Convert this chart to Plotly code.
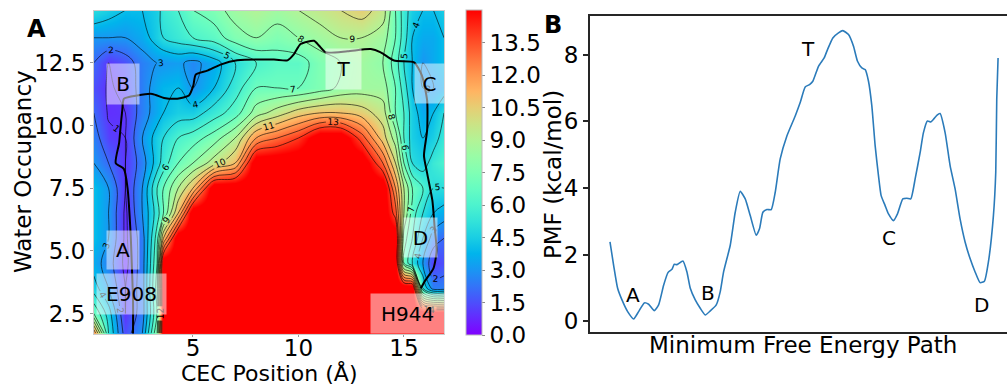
import numpy as np
import plotly.graph_objects as go

# ---------------- Panel A: free-energy surface ----------------
# CEC position (Å) grid columns and water occupancy grid rows
X_CEC = [0.3, 1.0, 1.8, 2.6, 3.3, 3.6, 4.3, 5.0, 6.0, 7.0, 8.0, 9.0, 10.0, 11.0,
         12.0, 13.0, 14.0, 14.6, 15.0, 15.4, 15.9, 16.4, 16.9]
Y_WATER = [1.7, 2.5, 3.5, 4.5, 5.5, 6.5, 7.5, 8.5, 9.5, 10.5, 11.5, 12.5, 13.5, 14.6]

# PMF (kcal/mol), one row per water-occupancy value (bottom to top)
PMF_SURFACE = [
    [12, 5, 1.5, 3, 8, 16, 16, 16, 16, 16, 16, 16, 16, 16, 16, 16, 16, 16, 16, 16, 16, 16, 16],
    [7, 4.5, 1, 2.5, 7, 16, 16, 16, 16, 16, 16, 16, 16, 16, 16, 16, 16, 16, 16, 16, 16, 16, 16],
    [4.5, 3, 1, 2.5, 7.5, 16, 16, 16, 16, 16, 16, 16, 16, 16, 16, 16, 16, 16, 16, 16, 5, 2.5, 2.5],
    [3.5, 2.5, 0.7, 2.5, 7, 16, 16, 16, 16, 16, 16, 16, 16, 16, 16, 16, 16, 16, 7, 5, 3, 1.2, 1.5],
    [4, 3, 0.8, 2.5, 6.5, 11, 16, 16, 16, 16, 16, 16, 16, 16, 16, 16, 16, 16, 7.5, 6, 4, 2.5, 2],
    [4, 3, 0.8, 3, 5.5, 7, 11, 16, 16, 16, 16, 16, 16, 16, 16, 16, 16, 13.5, 9, 6.5, 5, 4, 3.5],
    [4, 3, 1, 3, 6, 7, 9, 11, 16, 16, 16, 16, 16, 16, 16, 16, 16, 12, 9, 7, 6, 5, 5],
    [3, 2, 1, 2.5, 4.5, 5.5, 7, 8, 9.5, 11, 16, 16, 16, 16, 16, 16, 13, 10, 7, 5, 4.5, 5.5, 6],
    [2.5, 1.2, 1, 3, 4.5, 5, 6, 6.5, 7.5, 9, 12, 13, 14, 16, 16, 13.5, 10.5, 8.5, 6, 4.5, 4, 4.5, 5.5],
    [2, 0.9, 1, 2.5, 3.5, 4, 4.5, 4.5, 5.5, 6.5, 8.5, 9.5, 10.5, 11, 11, 10.5, 9.5, 7, 6, 4.5, 3.5, 4, 5],
    [1.5, 0.9, 1.2, 2.5, 3.5, 3.8, 4, 2.9, 4, 5.5, 7, 7, 7, 7.5, 8.2, 8.5, 8.5, 7, 5.5, 4, 3, 3, 3.5],
    [2, 1, 1.5, 2.5, 3, 3, 3.2, 2.7, 3.5, 5, 6, 6.5, 6.5, 7.5, 8, 8.5, 8, 6.5, 5, 4, 3, 3.5, 4],
    [3, 3, 3, 3.5, 4.5, 5, 5.5, 6, 6.5, 7.5, 8, 7.5, 8, 8.5, 9, 9, 8.5, 7, 5.5, 4, 3.5, 3.5, 4],
    [5, 4.5, 4, 4, 4.5, 5.5, 6, 7, 7.5, 8.5, 9, 8.5, 9, 9.5, 10, 10.5, 9.5, 7, 5.5, 4.5, 4, 4, 4.5],
]

# Minimum free energy path on the surface (E908 -> A -> B -> T -> C -> D -> H944)
PATH_X = [2.16, 2.16, 2.1, 2.05, 1.9, 1.73, 1.34, 1.5, 1.57, 1.65, 1.73, 2.36, 3.07, 3.63,
          4.26, 4.81, 5.02, 5.13, 5.68, 6.31, 7.1, 8.84, 9.48, 9.79, 10.1, 10.74, 10.98,
          11.29, 12.32, 13.43, 13.9, 14.53, 15.48, 15.85, 16.1, 16.1, 15.95, 16.1, 16.35,
          16.45, 16.55, 16.4, 16.0, 15.8]
PATH_Y = [1.7, 3.0, 4.5, 5.6, 7.5, 8.26, 8.5, 9.3, 9.94, 10.6, 11.07, 11.2, 11.26, 11.1,
          11.07, 11.2, 11.6, 12.03, 12.19, 12.43, 12.6, 12.63, 12.6, 12.85, 13.25, 13.38,
          13.18, 12.92, 12.96, 13.05, 12.92, 12.59, 12.52, 12.0, 11.0, 9.8, 8.8, 8.1, 7.0,
          6.0, 5.0, 4.3, 3.8, 3.5]

# State labels on the surface
SURF_LABELS = ["B", "A", "E908", "T", "C", "D", "H944"]
SURF_LABEL_X = [1.68, 1.68, 2.09, 12.13, 16.21, 15.78, 15.17]
SURF_LABEL_Y = [11.67, 5.04, 3.26, 12.27, 11.69, 5.54, 2.48]
SURF_LABEL_W = [32, 32, 69, 35, 29, 33, 73]
SURF_LABEL_H = [40, 38, 40, 40, 39, 39, 39]

# ---------------- Panel B: PMF along the path ----------------
PATH_S = [0, 0.94, 1.97, 3.09, 4.55, 6.09, 7.38, 8.84, 9.96, 11.42, 12.53, 13.82, 14.94,
          15.97, 16.57, 17.25, 18.8, 19.83, 20.69, 21.97, 23.26, 24.55, 25.84, 27.38, 28.41,
          29.27, 30.99, 32.27, 33.56, 34.85, 36.14, 37.68, 38.54, 39.4, 40.43, 41.55, 42.58,
          43.86, 45.58, 47.73, 49.01, 50.3, 51.42, 52.27, 53.73, 55.19, 56.05, 57.42, 58.88,
          60.0, 61.46, 62.75, 63.78, 64.89, 65.75, 66.61, 67.47, 68.33, 69.18, 69.87, 70.9,
          71.76, 73.05, 74.08, 75.45, 76.48, 77.51, 78.63, 79.91, 80.77, 81.8, 82.66, 83.35,
          84.21, 85.06, 86.35, 87.64, 88.93, 90.21, 91.5, 92.79, 94.08, 95.36, 96.48, 97.51,
          98.8, 99.4, 99.66, 100]
PATH_PMF = [2.38, 1.68, 0.99, 0.64, 0.29, 0.07, 0.29, 0.55, 0.51, 0.32, 0.49, 1.08, 1.46,
            1.56, 1.71, 1.7, 1.81, 1.48, 0.99, 0.64, 0.39, 0.19, 0.31, 0.49, 0.89, 1.48,
            2.28, 3.27, 3.9, 3.67, 3.17, 2.58, 2.78, 3.27, 3.35, 3.35, 3.87, 4.87, 5.56,
            6.16, 6.56, 7.03, 7.1, 7.2, 7.65, 7.9, 8.15, 8.5, 8.65, 8.72, 8.6, 8.25, 7.8,
            7.6, 7.55, 7.2, 6.46, 5.26, 4.37, 3.77, 3.47, 3.22, 3.02, 3.22, 3.67, 3.69, 3.67,
            4.27, 5.06, 5.66, 6.01, 5.98, 6.06, 6.18, 6.23, 5.66, 4.67, 3.97, 3.07, 2.38,
            1.88, 1.48, 1.16, 1.2, 1.78, 3.17, 4.47, 6.66, 7.9]

STATE_NAMES = ["A", "B", "T", "C", "D"]
STATE_S = [5.9, 25.3, 51.0, 71.9, 95.6]
STATE_PMF = [0.78, 0.84, 8.18, 2.5, 0.5]

CBAR_TICKS = [0.0, 1.5, 3.0, 4.5, 6.0, 7.5, 9.0, 10.5, 12.0, 13.5]

FONT = "DejaVu Sans"
W, H = 1007, 387


def rainbow_scale(n=21):
    """matplotlib-style 'rainbow' colormap as a plotly colorscale."""
    scale = []
    for t in np.linspace(0, 1, n):
        r = min(1.0, abs(2 * t - 0.5))
        g = np.sin(np.pi * t)
        b = np.cos(np.pi * t / 2)
        scale.append([float(t), f"rgb({int(round(r*255))},{int(round(g*255))},{int(round(max(b,0)*255))})"])
    return scale


def px_x(p):
    return p / W


def px_y(p):
    return 1 - p / H


fig = go.Figure()

fig.add_trace(go.Heatmap(
    x=X_CEC, y=Y_WATER, z=PMF_SURFACE, zmin=0, zmax=15, zsmooth="best",
    colorscale=rainbow_scale(), xaxis="x", yaxis="y", hoverinfo="skip",
    colorbar=dict(
        x=px_x(466), xanchor="left", xpad=0, ypad=0,
        y=px_y(173.5), yanchor="middle", lenmode="pixels", len=325,
        thickness=16, outlinewidth=1, outlinecolor="#bbbbbb",
        tickvals=CBAR_TICKS, ticktext=[f"{v:.1f}" for v in CBAR_TICKS],
        ticks="outside", ticklen=3, tickcolor="#888888",
        tickfont=dict(family=FONT, size=23, color="black"),
    ),
))

fig.add_trace(go.Contour(
    x=X_CEC, y=Y_WATER, z=PMF_SURFACE, xaxis="x", yaxis="y",
    contours=dict(start=1, end=14, size=1, coloring="none", showlabels=True,
                  labelfont=dict(family=FONT, size=9, color="black")),
    line=dict(color="rgba(0,0,0,0.75)", width=0.8),
    showscale=False, hoverinfo="skip",
))

fig.add_trace(go.Scatter(
    x=PATH_X, y=PATH_Y, mode="lines", xaxis="x", yaxis="y",
    line=dict(color="black", width=2, shape="spline", smoothing=0.6),
    hoverinfo="skip", showlegend=False,
))

fig.add_trace(go.Scatter(
    x=PATH_S, y=PATH_PMF, mode="lines", xaxis="x2", yaxis="y2",
    line=dict(color="#2b7bba", width=1.6, shape="spline", smoothing=0.5),
    hoverinfo="skip", showlegend=False,
))

annotations = []
for name, lx, ly, bw, bh in zip(SURF_LABELS, SURF_LABEL_X, SURF_LABEL_Y, SURF_LABEL_W, SURF_LABEL_H):
    annotations.append(dict(
        x=lx, y=ly, xref="x", yref="y", text=name, showarrow=False,
        font=dict(family=FONT, size=20, color="black"),
        bgcolor="rgba(255,255,255,0.5)", width=bw, height=bh, borderpad=0,
        xanchor="center", yanchor="middle",
    ))

for name, sx, sy in zip(STATE_NAMES, STATE_S, STATE_PMF):
    annotations.append(dict(
        x=sx, y=sy, xref="x2", yref="y2", text=name, showarrow=False,
        font=dict(family=FONT, size=20, color="black"),
        xanchor="center", yanchor="middle",
    ))

title_font = dict(family=FONT, size=23, color="black")
annotations += [
    dict(x=px_x(23), y=px_y(173), xref="paper", yref="paper", text="Water Occupancy",
         textangle=-90, showarrow=False, font=title_font, xanchor="center", yanchor="middle"),
    dict(x=px_x(269), y=px_y(375), xref="paper", yref="paper", text="CEC Position (Å)",
         showarrow=False, font=dict(family=FONT, size=22, color="black"),
         xanchor="center", yanchor="middle"),
    dict(x=px_x(553), y=px_y(176), xref="paper", yref="paper", text="PMF (kcal/mol)",
         textangle=-90, showarrow=False, font=title_font, xanchor="center", yanchor="middle"),
    dict(x=px_x(803), y=px_y(347), xref="paper", yref="paper", text="Minimum Free Energy Path",
         showarrow=False, font=title_font, xanchor="center", yanchor="middle"),
    dict(x=px_x(36), y=px_y(29), xref="paper", yref="paper", text="<b>A</b>",
         showarrow=False, font=dict(family=FONT, size=24, color="black"),
         xanchor="center", yanchor="middle"),
    dict(x=px_x(553), y=px_y(25), xref="paper", yref="paper", text="<b>B</b>",
         showarrow=False, font=dict(family=FONT, size=24, color="black"),
         xanchor="center", yanchor="middle"),
]

tick_font = dict(family=FONT, size=23, color="black")

fig.update_layout(
    width=W, height=H, margin=dict(l=0, r=0, t=0, b=0),
    paper_bgcolor="white", plot_bgcolor="white", showlegend=False,
    annotations=annotations,
    xaxis=dict(
        domain=[px_x(94), px_x(444)], range=[0.31, 16.9], anchor="y",
        tickvals=[5, 10, 15], ticks="outside", ticklen=2, tickcolor="#999999",
        ticklabelstandoff=-9,
        tickfont=tick_font, showgrid=False, zeroline=False,
        showline=True, linecolor="#cccccc", linewidth=1, mirror=True,
    ),
    yaxis=dict(
        domain=[px_y(336), px_y(11)], range=[1.67, 14.57], anchor="x",
        tickvals=[2.5, 5.0, 7.5, 10.0, 12.5], ticktext=["2.5", "5.0", "7.5", "10.0", "12.5"],
        ticks="outside", ticklen=3, tickcolor="#999999",
        tickfont=tick_font, showgrid=False, zeroline=False,
        showline=True, linecolor="#cccccc", linewidth=1, mirror=True,
    ),
    xaxis2=dict(
        domain=[px_x(590), 1.0], range=[-5.15, 102.3], anchor="y2",
        showticklabels=False, ticks="", showgrid=False, zeroline=False,
        showline=True, linecolor="#262626", linewidth=2, mirror=True,
    ),
    yaxis2=dict(
        domain=[px_y(334), px_y(16)], range=[-0.33, 9.16], anchor="x2",
        tickvals=[0, 2, 4, 6, 8], ticks="outside", ticklen=5, tickwidth=1.5,
        tickcolor="#262626", tickfont=tick_font, showgrid=False, zeroline=False,
        showline=True, linecolor="#262626", linewidth=2,
    ),
)

fig.write_html("out.html")
